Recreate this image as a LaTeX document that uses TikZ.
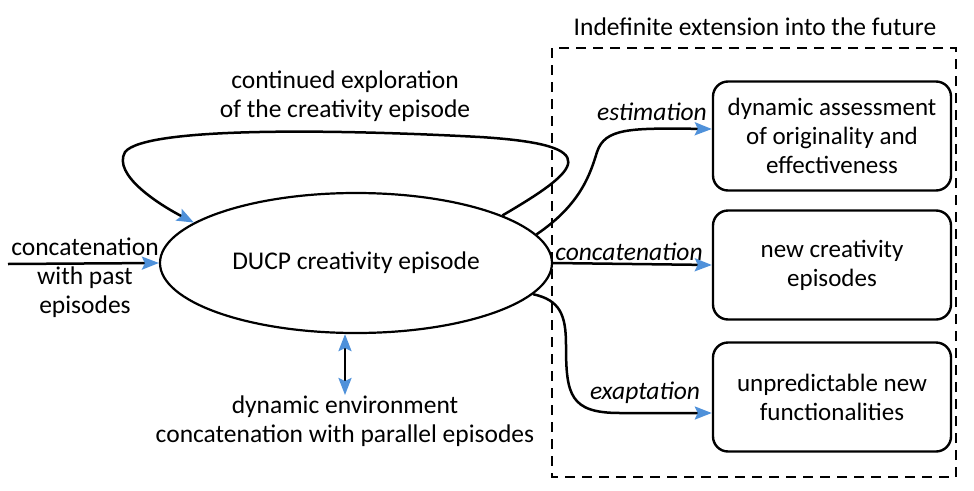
\documentclass[tikz,border=0pt]{standalone}
\usepackage{fontspec}
\setmainfont{Carlito}
\usetikzlibrary{arrows.meta,shapes.geometric}
\definecolor{tipblue}{RGB}{79,145,218}
\begin{document}
\begin{tikzpicture}[x=1pt,y=-1pt,
  txt/.style={font=\fontsize{25.5}{29}\selectfont,inner sep=0pt,align=center},
  itxt/.style={font=\fontsize{25.5}{29}\selectfont\itshape,inner sep=0pt},
  outbox/.style={draw,line width=2.4pt,rounded corners=15pt,minimum width=238pt,minimum height=109pt,inner sep=0pt,align=center,font=\fontsize{25}{29}\selectfont},
  arr/.style={line width=2.5pt,-{Stealth[length=17pt,width=13pt,inset=3pt,color=tipblue]}},
  darr/.style={line width=2.5pt,{Stealth[length=17pt,width=13pt,inset=3pt,color=tipblue]}-{Stealth[length=17pt,width=13pt,inset=3pt,color=tipblue]}}]
\useasboundingbox (0,0) rectangle (974,490);
% dashed region
\draw[line width=2.2pt,dash pattern=on 10pt off 7pt] (552,48) rectangle (956,477);
\node[txt] (title) at (755,27) {Indefinite extension into the future};
% main ellipse
\node[draw,ellipse,line width=2.2pt,minimum width=392pt,minimum height=140pt,inner sep=0pt,font=\fontsize{25.5}{29}\selectfont] (duc) at (356,263) {DUCP creativity episode};
% boxes
\node[outbox] (b1) at (832,136) {dynamic assessment\\of originality and\\effectiveness};
\node[outbox] (b2) at (832,265) {new creativity\\episodes};
\node[outbox] (b3) at (832,397) {unpredictable new\\functionalities};
% labels
\node[txt] (loopl) at (345,96) {continued exploration\\of the creativity episode};
\node[txt] (pastl) at (85,278) {concatenation\\with past\\episodes};
\node[txt] (envl) at (345,421) {dynamic environment\\concatenation with parallel episodes};
\node[itxt] (estl) at (652,112) {estimation};
\node[itxt] (concl) at (629,252) {concatenation};
\node[itxt] (exapl) at (645,393) {exaptation};
% connectors
\coordinate (pastin) at (8,264);
\draw[arr] (pastin) -- (duc.west);
\draw[arr] (duc.18) .. controls (580,170) and (608,145) .. (480,137)
  .. controls (330,129) and (145,127) .. (125,152)
  .. controls (112,175) and (160,205) .. (duc.166);
\draw[arr] (duc.9) .. controls (580,205) and (590,175) .. (597,152)
  .. controls (605,128) and (630,128) .. ([yshift=7pt]b1.west);
\draw[arr] (duc.east) -- (b2.west);
\draw[arr] (duc.-10) .. controls (560,300) and (566,315) .. (566,345)
  .. controls (566,395) and (570,413) .. (620,413) -- ([yshift=-16pt]b3.west);
\coordinate (envtop) at (345,395);
\draw[darr] (envtop |- duc.south) -- (envtop);
\end{tikzpicture}
\end{document}
